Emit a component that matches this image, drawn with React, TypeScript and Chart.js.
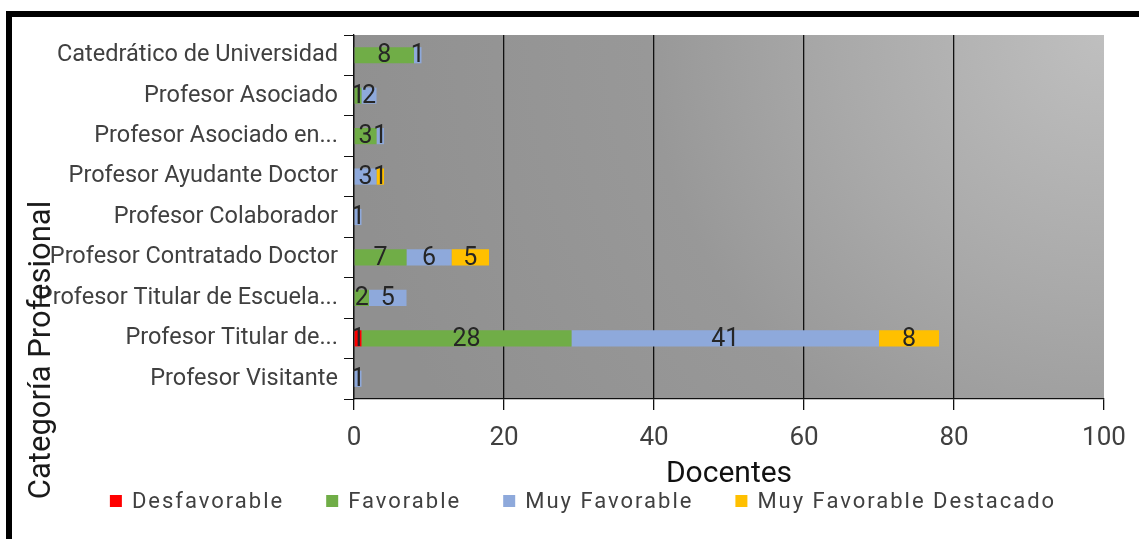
import { useEffect, useRef } from "react";
import { Chart, registerables } from "chart.js";

Chart.register(...registerables);

const categories = [
  "Catedrático de Universidad",
  "Profesor Asociado",
  "Profesor Asociado en...",
  "Profesor Ayudante Doctor",
  "Profesor Colaborador",
  "Profesor Contratado Doctor",
  "Profesor Titular de Escuela...",
  "Profesor Titular de...",
  "Profesor Visitante",
];
const desfavorable = [0, 0, 0, 0, 0, 0, 0, 1, 0];
const favorable = [8, 1, 3, 0, 0, 7, 2, 28, 0];
const muyFavorable = [1, 2, 1, 3, 1, 6, 5, 41, 1];
const muyFavorableDestacado = [0, 0, 0, 1, 0, 5, 0, 8, 0];
const seriesNames = ["Desfavorable", "Favorable", "Muy Favorable", "Muy Favorable Destacado"];
const seriesColors = ["#FF0000", "#70AD47", "#8EA9DB", "#FFC000"];
const xMin = 0;
const xMax = 100;
const xStep = 20;
const xTitle = "Docentes";
const yTitle = "Categoría Profesional";

const FONT = "Roboto, 'Open Sans', sans-serif";

const backgroundPlugin = {
  id: "plotBg",
  beforeDraw(chart: any) {
    const { ctx, chartArea: a } = chart;
    ctx.save();
    const g = ctx.createRadialGradient(a.right, a.top, 0, a.right, a.top, 760);
    g.addColorStop(0, "#bfbfbf");
    g.addColorStop(0.35, "#a9a9a9");
    g.addColorStop(0.6, "#989898");
    g.addColorStop(1, "#909090");
    ctx.fillStyle = g;
    ctx.fillRect(a.left, a.top, a.right - a.left, a.bottom - a.top);
    ctx.restore();
  },
};

const valueLabelPlugin = {
  id: "valueLabels",
  afterDatasetsDraw(chart: any) {
    const { ctx } = chart;
    ctx.save();
    ctx.font = `25px ${FONT}`;
    ctx.fillStyle = "#262626";
    ctx.textAlign = "center";
    ctx.textBaseline = "middle";
    chart.data.datasets.forEach((ds: any, di: number) => {
      const meta = chart.getDatasetMeta(di);
      meta.data.forEach((el: any, i: number) => {
        const v = ds.data[i];
        if (!v) return;
        const cx = (el.x + el.base) / 2;
        ctx.fillText(String(v), cx, el.y + 1);
      });
    });
    ctx.restore();
  },
};

const extrasPlugin = {
  id: "extras",
  afterDraw(chart: any) {
    const { ctx } = chart;
    ctx.save();
    // Y axis title
    ctx.font = `31px ${FONT}`;
    ctx.fillStyle = "#1a1a1a";
    ctx.textAlign = "center";
    ctx.textBaseline = "middle";
    ctx.translate(42, 350);
    ctx.rotate(-Math.PI / 2);
    ctx.fillText(yTitle, 0, 0);
    ctx.restore();

    // Legend
    ctx.save();
    ctx.font = `22px ${FONT}`;
    try {
      (ctx as any).letterSpacing = "2px";
    } catch (e) {}
    const box = 12;
    const boxGap = 10;
    const itemGap = 42;
    const items = chart.data.datasets.map((ds: any) => ({
      label: ds.label,
      color: ds.backgroundColor,
      w: ctx.measureText(ds.label).width,
    }));
    const total =
      items.reduce((s: number, it: any) => s + box + boxGap + it.w, 0) + itemGap * (items.length - 1);
    let x = 583 - total / 2;
    const yc = 501;
    ctx.textBaseline = "middle";
    ctx.textAlign = "left";
    items.forEach((it: any) => {
      ctx.fillStyle = it.color;
      ctx.fillRect(x, yc - box / 2, box, box);
      ctx.fillStyle = "#404040";
      ctx.fillText(it.label, x + box + boxGap, yc + 1);
      x += box + boxGap + it.w + itemGap;
    });
    ctx.restore();
  },
};

export default function App() {
  const ref = useRef<HTMLCanvasElement | null>(null);

  useEffect(() => {
    if (!ref.current) return;
    const series = [desfavorable, favorable, muyFavorable, muyFavorableDestacado];
    const chart = new Chart(ref.current, {
      type: "bar",
      data: {
        labels: categories,
        datasets: series.map((d, i) => ({
          label: seriesNames[i],
          data: d,
          backgroundColor: seriesColors[i],
          borderWidth: 0,
          barPercentage: 0.4,
          categoryPercentage: 1,
        })),
      },
      options: {
        indexAxis: "y",
        responsive: false,
        animation: false,
        layout: { padding: { top: 35, right: 35, bottom: 47, left: 0 } },
        plugins: {
          legend: { display: false },
          tooltip: { enabled: false },
        },
        scales: {
          x: {
            stacked: true,
            min: xMin,
            max: xMax,
            afterFit: (s: any) => {
              s.height = 93;
            },
            ticks: {
              stepSize: xStep,
              color: "#404040",
              font: { size: 26, family: FONT },
              padding: 13,
            },
            grid: {
              color: (c: any) => (c.tick && c.tick.value === xMax ? "rgba(0,0,0,0)" : "#111111"),
              tickColor: "#111111",
              tickLength: 11,
              lineWidth: 1.3,
            },
            border: { display: true, color: "#111111", width: 1.3 },
            title: {
              display: true,
              text: xTitle,
              color: "#111111",
              font: { size: 30, family: FONT },
              padding: 0,
            },
          },
          y: {
            stacked: true,
            afterFit: (s: any) => {
              s.width = 354;
            },
            ticks: {
              color: "#404040",
              font: { size: 23.5, family: FONT },
              padding: 6,
            },
            grid: {
              drawOnChartArea: false,
              drawTicks: true,
              tickLength: 10,
              tickColor: "#111111",
              offset: true,
            },
            border: { display: true, color: "#111111", width: 1.3 },
          },
        },
      },
      plugins: [backgroundPlugin, valueLabelPlugin, extrasPlugin],
    });
    return () => chart.destroy();
  }, []);

  return (
    <div
      style={{
        position: "absolute",
        left: 0,
        top: 0,
        width: 1139,
        height: 539,
        background: "#ffffff",
        overflow: "hidden",
      }}
    >
      <canvas
        ref={ref}
        width={1139}
        height={539}
        style={{ position: "absolute", left: 0, top: 0, width: 1139, height: 539 }}
      />
      <div style={{ position: "absolute", left: 6, top: 11, width: 1133, height: 6, background: "#000" }} />
      <div style={{ position: "absolute", left: 6, top: 11, width: 6, height: 528, background: "#000" }} />
    </div>
  );
}
